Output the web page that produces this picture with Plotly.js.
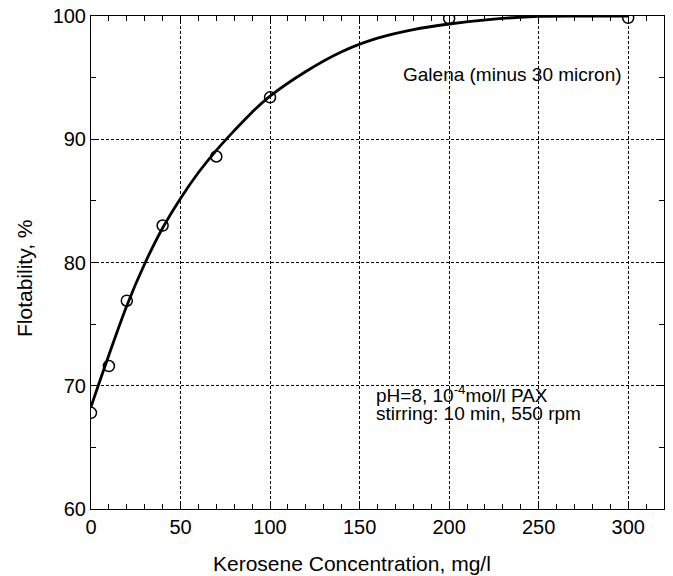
<!DOCTYPE html>
<html>
<head>
<meta charset="utf-8">
<script src="https://cdn.plot.ly/plotly-3.0.1.min.js"></script>
<style>html,body{margin:0;padding:0;background:#fff;}#chart{width:673px;height:576px;}</style>
</head>
<body>
<div id="chart"></div>
<script>
// Measured data points
var concentration = [0, 10, 20, 40, 70, 100, 200, 300];
var flotability = [67.8, 71.6, 76.9, 83.0, 88.6, 93.4, 99.8, 99.85];

// Points
var curveX = [0, 10, 20, 30, 40, 50, 60, 70, 80, 90, 100, 120, 140, 160, 180, 200, 225, 250, 275, 300];
var curveY = [68.3, 72.5, 76.5, 79.9, 82.8, 85.2, 87.3, 89.1, 90.7, 92.2, 93.5, 95.5, 97.1, 98.2, 98.9, 99.35, 99.75, 99.97, 100, 100];

var xTicks = [0, 50, 100, 150, 200, 250, 300];
var yTicks = [60, 70, 80, 90, 100];

var font = 'Liberation Sans, Arial, Helvetica, sans-serif';

var traces = [
  {x: curveX, y: curveY, mode: 'lines', line: {color: '#000', width: 2.8, shape: 'spline', smoothing: 1}, hoverinfo: 'skip'},
  {x: concentration, y: flotability, mode: 'markers',
   marker: {symbol: 'circle-open', size: 11, color: '#000', line: {width: 1.5, color: '#000'}}}
];

var axisCommon = {
  showline: true, linecolor: '#000', linewidth: 1, mirror: 'allticks',
  ticks: 'inside', ticklen: 5, tickcolor: '#000', tickwidth: 1,
  showgrid: true, gridcolor: '#000', gridwidth: 1, griddash: '3px,2px',
  zeroline: false, tickfont: {family: font, size: 20, color: '#000'}
};

var layout = {
  width: 673, height: 576,
  margin: {l: 91, r: 9, t: 16, b: 67},
  paper_bgcolor: '#fff', plot_bgcolor: '#fff',
  showlegend: false,
  xaxis: Object.assign({}, axisCommon, {
    range: [0, 320], tickmode: 'array', tickvals: xTicks, ticktext: xTicks.map(String),
    minor: {dtick: 10, ticks: 'inside', ticklen: 5, tickcolor: '#000', showgrid: false}
  }),
  yaxis: Object.assign({}, axisCommon, {
    range: [60, 100], tickmode: 'array', tickvals: yTicks, ticktext: yTicks.map(String),
    minor: {dtick: 5, ticks: 'inside', ticklen: 5, tickcolor: '#000', showgrid: false}
  }),
  annotations: [
    {text: 'Kerosene Concentration, mg/l', xref: 'paper', yref: 'paper', x: (352 - 91) / 573, y: (509 - 563) / 493,
     xanchor: 'center', yanchor: 'middle', showarrow: false, font: {family: font, size: 21, color: '#000'}},
    {text: 'Flotability, %', xref: 'paper', yref: 'paper', x: (24 - 91) / 573, y: (509 - 279) / 493,
     xanchor: 'center', yanchor: 'middle', textangle: -90, showarrow: false, font: {family: font, size: 21, color: '#000'}},
    {text: 'Galena (minus 30 micron)', xref: 'paper', yref: 'paper', x: (401 - 91) / 573, y: (509 - 74) / 493,
     xanchor: 'left', yanchor: 'middle', showarrow: false, font: {family: font, size: 19, color: '#000'}},
    {text: 'pH=8, 10<sup>-4</sup>mol/l PAX', xref: 'paper', yref: 'paper', x: (374 - 91) / 573, y: (509 - 394) / 493,
     xanchor: 'left', yanchor: 'middle', showarrow: false, font: {family: font, size: 19, color: '#000'}},
    {text: 'stirring: 10 min, 550 rpm', xref: 'paper', yref: 'paper', x: (374 - 91) / 573, y: (509 - 413) / 493,
     xanchor: 'left', yanchor: 'middle', showarrow: false, font: {family: font, size: 19, color: '#000'}}
  ]
};

Plotly.newPlot('chart', traces, layout, {displayModeBar: false, staticPlot: true});
</script>
</body>
</html>
